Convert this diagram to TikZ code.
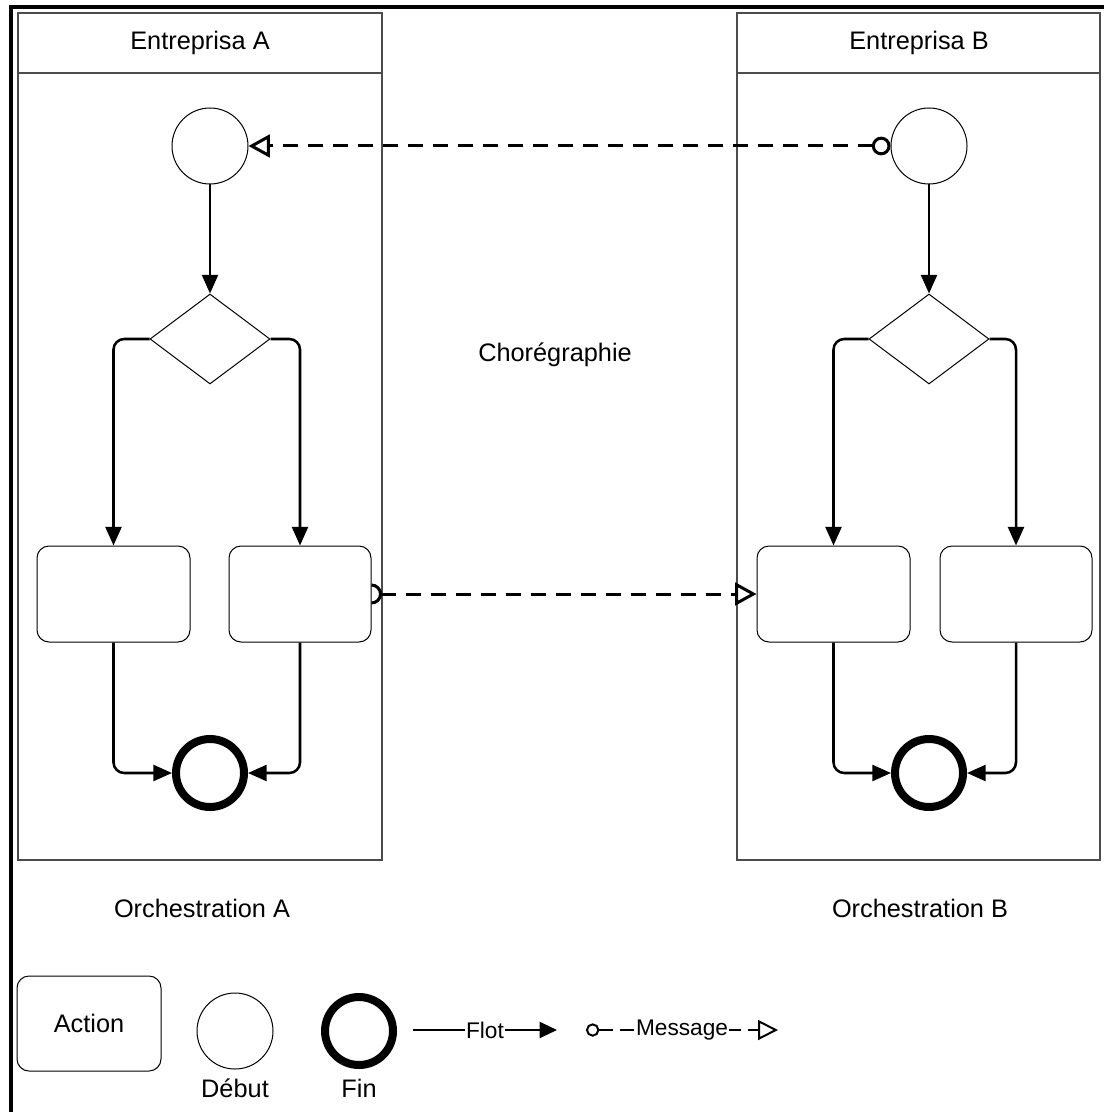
\documentclass[tikz,border=0pt]{standalone}
\usepackage{fontspec}
\setmainfont{Liberation Sans}
\usetikzlibrary{shapes.geometric,arrows.meta,calc}
\begin{document}
\begin{tikzpicture}[x=0.75pt,y=-0.75pt,
  pool/.style={draw=black!70, line width=0.9pt},
  startev/.style={circle, draw, line width=0.75pt, minimum size=57pt, inner sep=0pt, fill=white},
  endev/.style={circle, draw, line width=6pt, minimum size=51pt, inner sep=0pt},
  gate/.style={diamond, draw, line width=0.75pt, minimum width=90pt, minimum height=67.5pt, inner sep=0pt},
  action/.style={rectangle, rounded corners=9pt, draw, line width=0.75pt, minimum height=72pt, inner sep=0pt, fill=white},
  flow/.style={line width=1.9pt, rounded corners=8pt, -{Triangle[length=14pt,width=12pt]}},
  msgline/.style={line width=2.25pt, dash pattern=on 11.25pt off 7.5pt},
  msg/.style={msgline, {Circle[open,length=14pt]}-{Triangle[open,length=16pt,width=17pt]}},
  msgend/.style={msgline, arrows={-Triangle[open,length=16pt,width=17pt]}},
  lbl/.style={font=\fontsize{19}{22}\selectfont, inner sep=1pt},
  smalllbl/.style={font=\fontsize{17}{20}\selectfont, inner sep=1pt, fill=white},
  frame/.style={line width=3pt}
]
\useasboundingbox (0,0) rectangle (1104,1112);
% outer frame (left and top)
\coordinate (fl) at (11,1112);
\coordinate (fc) at (11,7);
\coordinate (fr) at (1104,7);
\draw[frame] (fl) -- (fc) -- (fr);

% pools
\draw[pool] (18,13) rectangle (382,860);
\draw[pool] (18,73) -- (382,73);
\node[lbl] (ta) at (200,43) {Entreprisa A};
\draw[pool] (737,13) rectangle (1100,860);
\draw[pool] (737,73) -- (1100,73);
\node[lbl] (tb) at (919,43) {Entreprisa B};

% pool A
\node[startev] (sA) at (210,146) {};
\node[gate] (dA) at (210,339) {};
\node[action, minimum width=114.75pt] (a1) at (113.5,594) {};
\node[action, minimum width=106.5pt] (a2) at (300,594) {};
\node[endev] (eA) at (210,773) {};
\draw[flow] (sA.south) -- (dA.north);
\draw[flow] (dA.west) -| (a1.north);
\draw[flow] (dA.east) -| (a2.north);
\draw[flow] (a1.south) |- (eA.west);
\draw[flow] (a2.south) |- (eA.east);

% pool B
\node[startev] (sB) at (929,146) {};
\node[gate] (dB) at (929,339) {};
\node[action, minimum width=114.75pt] (b1) at (833.5,594) {};
\node[action, minimum width=114pt] (b2) at (1016,594) {};
\node[endev] (eB) at (929,773) {};
\draw[flow] (sB.south) -- (dB.north);
\draw[flow] (dB.west) -| (b1.north);
\draw[flow] (dB.east) -| (b2.north);
\draw[flow] (b1.south) |- (eB.west);
\draw[flow] (b2.south) |- (eB.east);

% messages
\draw[msg] (sB.west) -- (sA.east);
\draw[line width=2.25pt] ($(a2.east)+(0,9)$) arc[start angle=-90, end angle=90, radius=6.75pt];
\draw[msgend] ([xshift=6.75pt]a2.east) -- (b1.west);

% labels
\node[lbl] (cho) at (555,355) {Chorégraphie};
\node[lbl] (oa) at (202,908) {Orchestration A};
\node[lbl] (ob) at (920,908) {Orchestration B};

% legend
\node[action, minimum width=108pt, minimum height=71.25pt, lbl] (la) at (89,1023.5) {Action};
\node[startev] (ls) at (235,1031) {};
\node[lbl] (lst) at (235,1088) {Début};
\node[endev] (le) at (359,1031) {};
\node[lbl] (let) at (359,1088) {Fin};
\coordinate (f1) at (413,1030);
\coordinate (f2) at (557,1030);
\draw[line width=1.5pt, -{Triangle[length=13pt,width=12pt]}] (f1) -- node[smalllbl] (flt) {Flot} (f2);
\coordinate (m1) at (586,1030);
\coordinate (m2) at (778,1030);
\draw[line width=1.5pt, dash pattern=on 11pt off 5pt, {Circle[open,length=10pt]}-{Triangle[open,length=15pt,width=15pt]}] (m1) -- node[smalllbl] (mst) {Message} (m2);
\end{tikzpicture}
\end{document}
